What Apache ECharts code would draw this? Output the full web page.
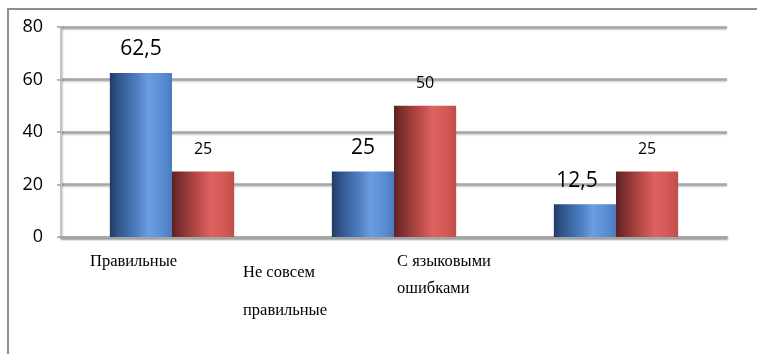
<!DOCTYPE html>
<html>
<head>
<meta charset="utf-8">
<script src="https://cdn.jsdelivr.net/npm/echarts@6/dist/echarts.min.js"></script>
<style>
  html, body { margin: 0; padding: 0; background: #ffffff; }
  #chart { width: 757px; height: 354px; }
</style>
</head>
<body>
<div id="chart"></div>
<script>
// Answer categories (line breaks as printed under the axis)
const categories = ['Правильные', 'Не совсем\nправильные', 'С языковыми\nошибками'];
// Percentages for the two groups
const seriesBlue = [62.5, 25, 12.5];
const seriesRed = [25, 50, 25];
// Value axis ticks
const yTicks = [0, 20, 40, 60, 80];

const chart = echarts.init(document.getElementById('chart'), null, { renderer: 'canvas' });

// Cylinder-like shading across each bar
function shade(stops) {
  return {
    type: 'linear', x: 0, y: 0, x2: 1, y2: 0,
    colorStops: stops.map(s => ({ offset: s[0], color: s[1] }))
  };
}
const blueFill = shade([[0, '#213b63'], [0.12, '#2f5388'], [0.45, '#4f80c4'], [0.62, '#6a9ddf'], [0.85, '#5a8cd2'], [1, '#4a7bbf']]);
const redFill = shade([[0, '#5e2222'], [0.12, '#7c2f2e'], [0.45, '#c04e4c'], [0.62, '#de625f'], [0.85, '#d05956'], [1, '#bf4d4a']]);

const fmt = v => String(v).replace('.', ',');

// Category label boxes: each block is centred on its tick, text starts at the box's left edge
const serif = { fontFamily: 'Liberation Serif', fontSize: 16.5, color: '#000', align: 'left' };
const catRich = {
  c0: Object.assign({ width: 164, lineHeight: 28 }, serif),
  c1: Object.assign({ width: 302, lineHeight: 38 }, serif),
  c2: Object.assign({ width: 438, lineHeight: 27 }, serif),
  sp: { fontSize: 1, lineHeight: 6 }
};

const option = {
  backgroundColor: '#ffffff',
  animation: false,
  graphic: [
    {
      type: 'rect',
      shape: { x: 8, y: 9, width: 900, height: 500 },
      style: { fill: 'none', stroke: '#8f8f8f', lineWidth: 2 },
      z: -1
    }
  ],
  grid: { left: 61, right: 30, top: 27, bottom: 117, containLabel: false, outerBoundsMode: 'none' },
  xAxis: {
    type: 'category',
    data: categories,
    axisLine: { show: true, lineStyle: { color: '#a6a6a6', width: 2.5, shadowColor: 'rgba(0,0,0,0.25)', shadowBlur: 2, shadowOffsetY: 1 } },
    axisTick: { show: false },
    axisLabel: {
      interval: 0,
      margin: 11,
      align: 'center',
      hideOverlap: false,
      formatter: (value, index) => {
        const lines = value.split('\n').map(l => '{c' + index + '|' + l + '}');
        const txt = lines.join('\n');
        return index === 1 ? '{sp| }\n' + txt : txt;
      },
      rich: catRich
    }
  },
  yAxis: {
    type: 'value',
    min: 0,
    max: 80,
    interval: 20,
    axisLine: { show: true, lineStyle: { color: '#c4c4c4', width: 2, shadowColor: 'rgba(0,0,0,0.2)', shadowBlur: 2, shadowOffsetX: 1 } },
    axisTick: { show: true, length: 4, lineStyle: { color: '#a0a0a0', width: 1.5 } },
    axisLabel: {
      margin: 18,
      fontFamily: 'Open Sans',
      fontSize: 18,
      color: '#000',
      formatter: v => (yTicks.includes(v) ? String(v) : '')
    },
    splitLine: { show: true, lineStyle: { color: '#a6a6a6', width: 2.5, shadowColor: 'rgba(0,0,0,0.25)', shadowBlur: 2, shadowOffsetY: 1 } }
  },
  series: [
    {
      type: 'bar',
      data: seriesBlue.map((v, i) => i === 2 ? { value: v, label: { offset: [-8, 0] } } : v),
      barGap: '0%',
      barCategoryGap: '44%',
      itemStyle: { color: blueFill },
      label: {
        show: true,
        position: 'top',
        distance: 13,
        fontFamily: 'Open Sans',
        fontSize: 21,
        color: '#000',
        formatter: p => fmt(p.value)
      }
    },
    {
      type: 'bar',
      data: seriesRed,
      itemStyle: { color: redFill },
      label: {
        show: true,
        position: 'top',
        distance: 14,
        fontFamily: 'Open Sans',
        fontSize: 16,
        color: '#000',
        formatter: p => fmt(p.value)
      }
    }
  ]
};

chart.setOption(option);
</script>
</body>
</html>
